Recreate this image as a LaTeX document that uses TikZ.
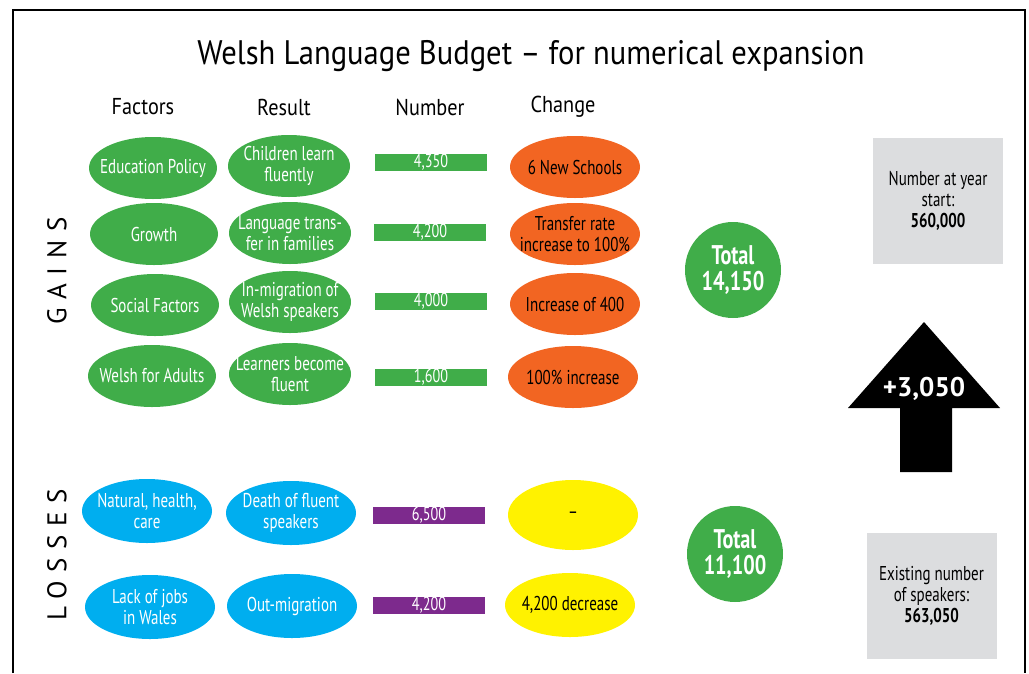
\documentclass[tikz,border=0pt]{standalone}
\usepackage{fontspec}
\setmainfont{PT Sans}[FakeStretch=0.75]
\newfontfamily\titlefont{PT Sans}[FakeStretch=0.9]
\newfontfamily\headfont{PT Sans}[FakeStretch=0.88]
\newfontfamily\plainfont{PT Sans}
\newfontfamily\spacedfont{PT Sans}[LetterSpace=32]
\usetikzlibrary{shapes.geometric}

\definecolor{budgetgreen}{HTML}{40AD49}
\definecolor{budgetorange}{HTML}{F26522}
\definecolor{budgetblue}{HTML}{00AEEF}
\definecolor{budgetpurple}{HTML}{7D2A8D}
\definecolor{budgetyellow}{HTML}{FFF200}
\definecolor{budgetgrey}{HTML}{DCDDDF}

\tikzset{
  oval/.style={ellipse, fill=#1, minimum width=128pt, minimum height=62pt, inner sep=0pt},
  ovaltext/.style={align=center, text=white, inner sep=0pt,
    font=\fontsize{20}{21}\selectfont},
  darktext/.style={ovaltext, text=black},
  bar/.style={rectangle, fill=#1, minimum width=112pt, minimum height=17pt, inner sep=0pt,
    text=white, font=\fontsize{19}{17}\selectfont},
  total/.style={circle, fill=budgetgreen, minimum size=96pt, inner sep=0pt, align=center,
    text=white, font=\bfseries\fontsize{27}{26}\selectfont},
  infobox/.style={rectangle, fill=budgetgrey, minimum width=130pt, minimum height=126pt,
    inner sep=0pt, align=center, font=\fontsize{20}{21}\selectfont},
  heading/.style={font=\headfont\fontsize{23}{26}\selectfont},
  sidelabel/.style={rotate=90, font=\spacedfont\fontsize{27}{30}\selectfont}
}

\begin{document}
\begin{tikzpicture}[x=1pt, y=-1pt]
\useasboundingbox (0,0) rectangle (1029,673);

% outer frame, open at the bottom
\draw[line width=2pt] (13,673) -- (13,10) -- (1025,10) -- (1025,673);

% title and column headings
\node[font=\titlefont\fontsize{34}{36}\selectfont] (title) at (531,56) {Welsh Language Budget – for numerical expansion};
\node[heading] (hfac) at (143,107) {Factors};
\node[heading] (hres) at (284,107) {Result};
\node[heading] (hnum) at (430,107) {Number};
\node[heading] (hchg) at (563,107) {Change};

% side labels
\node[sidelabel] (gains) at (57,271) {GAINS};
\node[sidelabel] (losses) at (57,555) {LOSSES};

% gains: factors
\node[oval=budgetgreen, label={[ovaltext]center:Education Policy}] (f1) at (153,168) {};
\node[oval=budgetgreen, label={[ovaltext]center:Growth}] (f2) at (154,234) {};
\node[oval=budgetgreen, label={[ovaltext]center:Social Factors}] (f3) at (155,305) {};
\node[oval=budgetgreen, label={[ovaltext]center:Welsh for Adults}] (f4) at (152,376) {};

% gains: results
\node[oval=budgetgreen, minimum width=122pt, label={[ovaltext]center:Children learn\\fluently}] (r1) at (289,166) {};
\node[oval=budgetgreen, minimum width=122pt, label={[ovaltext]center:Language trans-\\fer in families}] (r2) at (290,233) {};
\node[oval=budgetgreen, minimum width=122pt, label={[ovaltext]center:In-migration of\\Welsh speakers}] (r3) at (290,302) {};
\node[oval=budgetgreen, minimum width=122pt, label={[ovaltext]center:Learners become\\fluent}] (r4) at (290,374) {};

% gains: numbers
\node[bar=budgetgreen] (n1) at (431,162.5) {4,350};
\node[bar=budgetgreen] (n2) at (430,232) {4,200};
\node[bar=budgetgreen] (n3) at (431,301) {4,000};
\node[bar=budgetgreen] (n4) at (431,377.5) {1,600};

% gains: change
\node[oval=budgetorange, minimum width=130pt, label={[darktext]center:6 New Schools}] (c1) at (575,167) {};
\node[oval=budgetorange, minimum width=130pt, label={[darktext]center:Transfer rate\\increase to 100\%}] (c2) at (575,234) {};
\node[oval=budgetorange, minimum width=130pt, label={[darktext]center:Increase of 400}] (c3) at (575,304) {};
\node[oval=budgetorange, minimum width=130pt, label={[darktext]center:100\% increase}] (c4) at (573,377) {};

% losses
\node[oval=budgetblue, minimum width=130pt, minimum height=64pt, label={[ovaltext]center:Natural, health,\\care}] (f5) at (147,511) {};
\node[oval=budgetblue, minimum width=130pt, minimum height=64pt, label={[ovaltext]center:Lack of jobs\\in Wales}] (f6) at (150,607) {};
\node[oval=budgetblue, minimum width=130pt, minimum height=64pt, label={[ovaltext]center:Death of fluent\\speakers}] (r5) at (291,513) {};
\node[oval=budgetblue, minimum width=130pt, minimum height=64pt, label={[ovaltext]center:Out-migration}] (r6) at (292,606) {};
\node[bar=budgetpurple] (n5) at (429,515) {6,500};
\node[bar=budgetpurple] (n6) at (429,605.5) {4,200};
\node[oval=budgetyellow, minimum width=130pt, minimum height=70pt, label={[darktext]center:–}] (c5) at (573,515) {};
\node[oval=budgetyellow, minimum width=130pt, minimum height=64pt, label={[darktext]center:4,200 decrease}] (c6) at (570,605) {};

% totals
\node[total] (tg) at (733,270) {Total\\14,150};
\node[total] (tl) at (735,554) {Total\\11,100};

% year figures
\node[infobox] (start) at (938,201) {Number at year\\start:\\\textbf{560,000}};
\node[infobox] (now) at (931.5,596) {Existing number\\of speakers:\\\textbf{563,050}};

% net change arrow
\fill (900,472) -- (900,408) -- (848,408) -- (924,322) -- (1000,408) -- (952,408) -- (952,472) -- cycle;
\node[text=white, font=\plainfont\bfseries\fontsize{27}{28}\selectfont] (net) at (924,389) {+3,050};
\end{tikzpicture}
\end{document}
